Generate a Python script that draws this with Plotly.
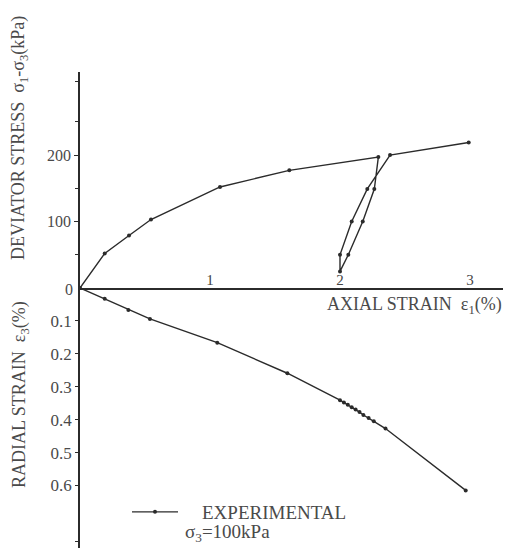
import plotly.graph_objects as go

# Deviator stress vs axial strain (loading, unload-reload loop, loading)
axial_q = [0, 0.19, 0.377, 0.546, 1.077, 1.61, 2.295, 2.264, 2.175, 2.064, 2.0, 2.0, 2.09, 2.21, 2.385, 2.99]
dev_stress = [0, 52, 79, 103, 152, 177, 197, 149, 100, 50, 25, 50, 100, 149, 200, 219]

# Radial strain vs axial strain
axial_r = [0, 0.19, 0.372, 0.538, 1.056, 1.595, 2.0, 2.03, 2.06, 2.09, 2.12, 2.15, 2.18, 2.22, 2.26, 2.35, 2.967]
radial = [0, 0.033, 0.067, 0.094, 0.166, 0.259, 0.341, 0.348, 0.355, 0.362, 0.369, 0.377, 0.386, 0.395, 0.405, 0.427, 0.615]

x_ticks = [1, 2, 3]
q_ticks = [100, 200]
r_ticks = [0.1, 0.2, 0.3, 0.4, 0.5, 0.6]

INK = "#2b2b2b"
TXT = "#4a4a4a"
FONT = "Liberation Serif"

OFF = 8  # page body margin
W, H = 511 - OFF, 551 - OFF
PL, PR, PT, PB = 80, 509, 72, 548  # plot area in window pixels
PW, PH = PR - PL, PB - PT


def px(xp):
    return (xp - PL) / PW


def py(yp):
    return (PB - yp) / PH


NB = "\u00a0"

fig = go.Figure()
fig.add_trace(go.Scatter(
    x=axial_q, y=dev_stress, mode="lines+markers", name=NB * 4 + "EXPERIMENTAL",
    line=dict(color=INK, width=1.4),
    marker=dict(color=INK, size=4),
    xaxis="x", yaxis="y", showlegend=True))
fig.add_trace(go.Scatter(
    x=axial_r, y=radial, mode="lines+markers", name="radial",
    line=dict(color=INK, width=1.4),
    marker=dict(color=INK, size=4),
    xaxis="x2", yaxis="y2", showlegend=False))

split = (288 - PT) / PH
fig.update_layout(
    width=W, height=H,
    margin=dict(l=PL - OFF, r=511 - PR, t=PT - OFF, b=551 - PB, autoexpand=False),
    paper_bgcolor="white", plot_bgcolor="white",
    font=dict(family=FONT, color=TXT, size=15),
    xaxis=dict(range=[0, 3.3], anchor="y", showline=True, linecolor=INK, linewidth=1.5,
               tickvals=x_ticks, ticktext=[str(v) for v in x_ticks],
               ticklabelposition="inside", ticks="", showgrid=False, zeroline=False,
               tickfont=dict(size=15), automargin=False),
    xaxis2=dict(range=[0, 3.3], anchor="y2", visible=False, automargin=False),
    yaxis=dict(domain=[1 - split, 1], range=[0, 325], anchor="x", showline=True,
               linecolor=INK, linewidth=1.5, tickvals=q_ticks,
               ticks="outside", ticklen=4, tickcolor=INK, showgrid=False, zeroline=False,
               tickfont=dict(size=16), automargin=False,
               minor=dict(tickvals=[0, 50, 150, 250, 310], ticks="outside", ticklen=3, tickcolor=INK)),
    yaxis2=dict(domain=[0, 1 - split], range=[0.79, 0], anchor="x2", showline=True,
                linecolor=INK, linewidth=1.5, tickvals=r_ticks,
                ticktext=[f"{v:.1f}" for v in r_ticks],
                ticks="outside", ticklen=3, tickcolor=INK, showgrid=False, zeroline=False,
                tickfont=dict(size=17), automargin=False,
                minor=dict(tickvals=[0.77], ticks="outside", ticklen=3, tickcolor=INK)),
    legend=dict(x=px(127), y=py(493), xanchor="left", yanchor="top", itemwidth=46,
                bgcolor="rgba(0,0,0,0)", font=dict(size=19, color=TXT)),
    annotations=[
        dict(text="0", xref="paper", yref="paper", x=px(75), y=py(289),
             xanchor="right", yanchor="middle", showarrow=False, font=dict(size=16)),
        dict(text="AXIAL STRAIN  ε<sub>1</sub>(%)", xref="paper", yref="paper",
             x=px(504), y=py(305), xanchor="right", yanchor="middle",
             showarrow=False, font=dict(size=18)),
        dict(text="DEVIATOR STRESS  σ<sub>1</sub>-σ<sub>3</sub>(kPa)", xref="paper", yref="paper",
             x=px(20), y=py(138), textangle=-90, xanchor="center", yanchor="middle",
             showarrow=False, font=dict(size=18)),
        dict(text="RADIAL STRAIN  ε<sub>3</sub>(%)", xref="paper", yref="paper",
             x=px(20), y=py(395), textangle=-90, xanchor="center", yanchor="middle",
             showarrow=False, font=dict(size=18)),
        dict(text="σ<sub>3</sub>=100kPa", xref="paper", yref="paper",
             x=px(183), y=py(533), xanchor="left", yanchor="middle",
             showarrow=False, font=dict(size=19)),
    ],
)

fig.write_html("out.html")
